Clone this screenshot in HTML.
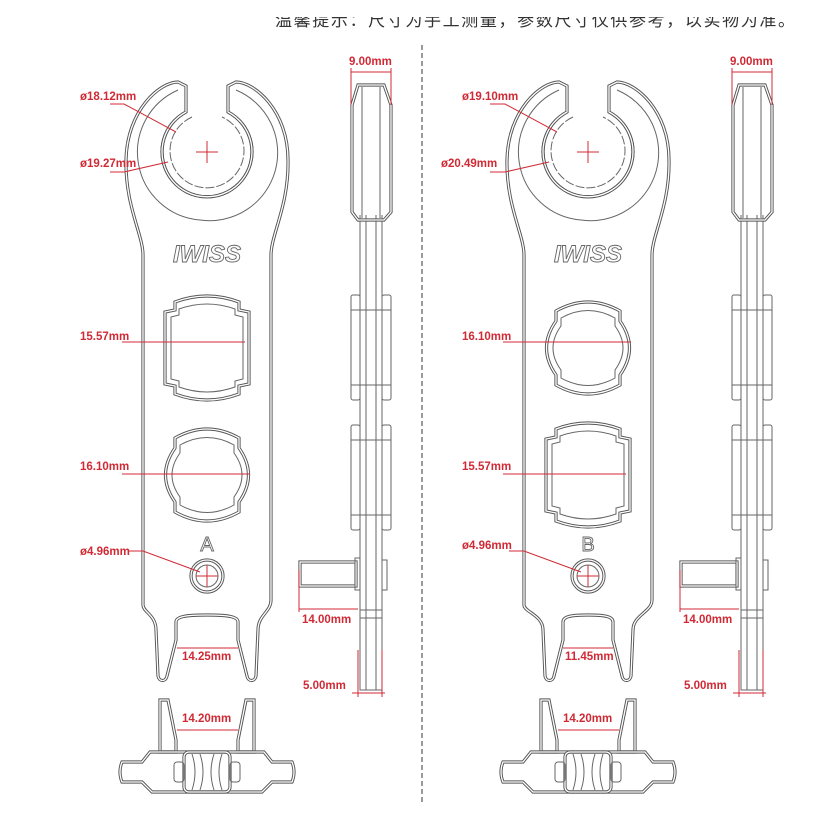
<!DOCTYPE html>
<html><head><meta charset="utf-8"><style>
html,body{margin:0;padding:0;background:#fff;}
svg{display:block;}
.t{font-family:"Liberation Sans Narrow","Liberation Sans",sans-serif;font-weight:bold;font-size:11.5px;fill:#d02a35;}
.r{stroke:#d02a35;stroke-width:1;fill:none;}
.o{fill:none;stroke:#555;stroke-width:3.2;}
.w{fill:none;stroke:#fff;stroke-width:1.3;}
.l{fill:none;stroke:#666;stroke-width:1;}
</style></head><body>
<svg width="824" height="824" viewBox="0 0 824 824" xmlns="http://www.w3.org/2000/svg">
<rect width="824" height="824" fill="#fff"/>
<text x="275" y="26" font-family="'Liberation Sans','Noto Sans CJK SC',sans-serif" font-size="17" fill="#333" textLength="520">温馨提示：尺寸为手工测量，参数尺寸仅供参考，以实物为准。</text>
<rect x="0" y="0" width="824" height="17" fill="#fff"/>
<line x1="422" y1="45" x2="422" y2="805" stroke="#555" stroke-width="1.2" stroke-dasharray="5,3"/>

<defs>
<g id="head">
  <path d="M186,112 A45,45 0 1 0 228,112" class="o"/><path d="M186,112 A45,45 0 1 0 228,112" class="w"/>
  <path d="M192,117 A37,37 0 1 0 222,117" class="l" stroke-dasharray="9,2"/>
  <path d="M178,90 A68,68 0 0 0 200,220 A68,68 0 0 0 236,90" class="l"/>
  <line x1="196" y1="152" x2="218" y2="152" class="r"/><line x1="207" y1="141" x2="207" y2="163" class="r"/>
  <text x="207" y="262" text-anchor="middle" font-family="'Liberation Sans',sans-serif" font-style="italic" font-weight="bold" font-size="24" fill="#fff" stroke="#666" stroke-width="0.9">IWISS</text>
  <circle cx="207" cy="576" r="16" class="o"/><circle cx="207" cy="576" r="16" class="w"/>
  <circle cx="207" cy="576" r="11" class="l"/>
  <line x1="196" y1="576" x2="218" y2="576" class="r"/><line x1="207" y1="565" x2="207" y2="587" class="r"/>
</g>
<g id="sq">
  <path d="M175,302 Q207,290 239,302 L239,310 L249,312 L249,384 L239,386 L239,394 Q207,406 175,394 L175,386 L165,384 L165,312 L175,310 Z" class="o"/>
  <path d="M175,302 Q207,290 239,302 L239,310 L249,312 L249,384 L239,386 L239,394 Q207,406 175,394 L175,386 L165,384 L165,312 L175,310 Z" class="w"/>
  <path d="M179,309 Q207,299 235,309 L235,315 L243,317 L243,379 L235,381 L235,387 Q207,397 179,387 L179,381 L171,379 L171,317 L179,315 Z" class="l"/>
</g>
<g id="rd">
  <path d="M175,438 Q207,420 239,438 L239,448 Q258,475 239,502 L239,512 Q207,530 175,512 L175,502 Q156,475 175,448 Z" class="o"/>
  <path d="M175,438 Q207,420 239,438 L239,448 Q258,475 239,502 L239,512 Q207,530 175,512 L175,502 Q156,475 175,448 Z" class="w"/>
  <path d="M180,445 Q207,430 234,445 L234,453 Q250,475 234,497 L234,505 Q207,520 180,505 L180,497 Q164,475 180,453 Z" class="l"/>
</g>
<g id="side">
  <path d="M360,215 L360,690 L382,690 L382,215" class="l"/>
  <line x1="366" y1="215" x2="366" y2="690" class="l"/><line x1="376" y1="215" x2="376" y2="690" class="l"/>
  <path d="M358,85 L384,85 L391,105 L391,212 L384,220 L358,220 L352,212 L352,105 Z" class="o"/>
  <path d="M358,85 L384,85 L391,105 L391,212 L384,220 L358,220 L352,212 L352,105 Z" class="w"/>
  <line x1="362" y1="87" x2="362" y2="218" class="l"/><line x1="380" y1="87" x2="380" y2="218" class="l"/>
  <rect x="351" y="295" width="9" height="105" rx="2" class="l"/><rect x="382" y="295" width="9" height="105" rx="2" class="l"/>
  <rect x="351" y="425" width="9" height="105" rx="2" class="l"/><rect x="382" y="425" width="9" height="105" rx="2" class="l"/>
  <line x1="351" y1="310" x2="391" y2="310" class="l"/><line x1="351" y1="385" x2="391" y2="385" class="l"/>
  <line x1="351" y1="440" x2="391" y2="440" class="l"/><line x1="351" y1="515" x2="391" y2="515" class="l"/>
  <rect x="300" y="562" width="56" height="24" class="o"/><rect x="300" y="562" width="56" height="24" class="w"/>
  <rect x="355" y="558" width="5" height="32" class="l"/>
  <rect x="382" y="560" width="5" height="30" class="l"/>
  <line x1="360" y1="610" x2="382" y2="610" class="l"/><line x1="360" y1="618" x2="382" y2="618" class="l"/>
</g>
<g id="conn">
  <path d="M160,700 L168,700 L176,740 L176,752 L160,752 Z" class="o"/><path d="M160,700 L168,700 L176,740 L176,752 L160,752 Z" class="w"/>
  <path d="M254,700 L246,700 L238,740 L238,752 L254,752 Z" class="o"/><path d="M254,700 L246,700 L238,740 L238,752 L254,752 Z" class="w"/>
  <path d="M150,752 L264,752 L272,762 L292,762 Q296,772 292,782 L272,782 L262,792 L152,792 L142,782 L122,782 Q118,772 122,762 L142,762 Z" class="o"/>
  <path d="M150,752 L264,752 L272,762 L292,762 Q296,772 292,782 L272,782 L262,792 L152,792 L142,782 L122,782 Q118,772 122,762 L142,762 Z" class="w"/>
  <rect x="184" y="752" width="46" height="40" rx="5" class="o"/><rect x="184" y="752" width="46" height="40" rx="5" class="w"/>
  <path d="M192,754 Q198,772 192,790 M200,754 Q206,772 200,790 M214,754 Q208,772 214,790 M222,754 Q216,772 222,790" class="l"/>
  <rect x="174" y="762" width="10" height="20" rx="3" class="l"/><rect x="230" y="762" width="10" height="20" rx="3" class="l"/>
</g>
</defs>

<!-- LEFT -->
<path d="M143,600 L143,255 C143,235 125,205 126,160 C127,110 160,82 178,82 L186,86 L186,112 A45,45 0 1 0 228,112 L228,86 L236,82 C254,82 288,110 288,160 C289,205 271,235 271,255 L271,600 C271,612 258,615 258,630 L256,676 C255,682 248,682 247,676 L238,640 L238,622 C238,617 230,615 207,615 C184,615 176,617 176,622 L176,640 L167,676 C166,682 159,682 158,676 L156,630 C156,615 143,612 143,605 Z" class="o"/>
<path d="M143,600 L143,255 C143,235 125,205 126,160 C127,110 160,82 178,82 L186,86 L186,112 A45,45 0 1 0 228,112 L228,86 L236,82 C254,82 288,110 288,160 C289,205 271,235 271,255 L271,600 C271,612 258,615 258,630 L256,676 C255,682 248,682 247,676 L238,640 L238,622 C238,617 230,615 207,615 C184,615 176,617 176,622 L176,640 L167,676 C166,682 159,682 158,676 L156,630 C156,615 143,612 143,605 Z" class="w"/>
<use href="#head"/><use href="#sq"/><use href="#rd"/><use href="#side"/><use href="#conn"/>
<text x="207" y="551" text-anchor="middle" font-family="'Liberation Sans',sans-serif" font-size="20" fill="#fff" stroke="#666" stroke-width="0.9">A</text>

<!-- RIGHT -->
<g transform="translate(381,0)">
<path d="M143,600 L143,255 C143,235 125,205 126,160 C127,110 160,82 178,82 L186,86 L186,112 A45,45 0 1 0 228,112 L228,86 L236,82 C254,82 288,110 288,160 C289,205 271,235 271,255 L271,600 C271,612 252,615 252,630 L250,676 C249,682 242,682 241,676 L232,640 L232,622 C232,617 226,615 207,615 C188,615 182,617 182,622 L182,640 L173,676 C172,682 165,682 164,676 L162,630 C162,615 143,612 143,605 Z" class="o"/>
<path d="M143,600 L143,255 C143,235 125,205 126,160 C127,110 160,82 178,82 L186,86 L186,112 A45,45 0 1 0 228,112 L228,86 L236,82 C254,82 288,110 288,160 C289,205 271,235 271,255 L271,600 C271,612 252,615 252,630 L250,676 C249,682 242,682 241,676 L232,640 L232,622 C232,617 226,615 207,615 C188,615 182,617 182,622 L182,640 L173,676 C172,682 165,682 164,676 L162,630 C162,615 143,612 143,605 Z" class="w"/>
<use href="#head"/>
<use href="#rd" transform="translate(0,-127)"/>
<use href="#sq" transform="translate(0,127)"/>
<use href="#side"/><use href="#conn"/>
<text x="207" y="551" text-anchor="middle" font-family="'Liberation Sans',sans-serif" font-size="20" fill="#fff" stroke="#666" stroke-width="0.9">B</text>
</g>

<!-- LEFT dims -->
<text class="t" x="80" y="100">ø18.12mm</text><path class="r" d="M110,104 L124,104 L176,132"/>
<text class="t" x="80" y="167">ø19.27mm</text><path class="r" d="M110,172 L124,172 L168,162"/>
<text class="t" x="80" y="340">15.57mm</text><path class="r" d="M122,342 L245,342"/>
<text class="t" x="80" y="470">16.10mm</text><path class="r" d="M122,474 L250,474"/>
<text class="t" x="80" y="555">ø4.96mm</text><path class="r" d="M128,551 L143,551 L200,572"/>
<text class="t" x="182" y="660">14.25mm</text><path class="r" d="M177,648 L238,648"/>
<text class="t" x="182" y="722">14.20mm</text><path class="r" d="M177,730 L238,730"/>
<text class="t" x="349" y="65">9.00mm</text><path class="r" d="M351,72 L391,72 M351,68 L351,105 M391,68 L391,105"/>
<text class="t" x="302" y="623">14.00mm</text><path class="r" d="M299,609 L358,609 M299,570 L299,612"/>
<text class="t" x="303" y="689">5.00mm</text><path class="r" d="M352,693 L385,693 M358,650 L358,697 M382,650 L382,697"/>
<!-- RIGHT dims -->
<text class="t" x="462" y="100">ø19.10mm</text><path class="r" d="M490,104 L505,104 L557,132"/>
<text class="t" x="441" y="167">ø20.49mm</text><path class="r" d="M490,172 L505,172 L549,162"/>
<text class="t" x="462" y="340">16.10mm</text><path class="r" d="M503,342 L631,342"/>
<text class="t" x="462" y="470">15.57mm</text><path class="r" d="M503,474 L626,474"/>
<text class="t" x="462" y="549">ø4.96mm</text><path class="r" d="M509,551 L524,551 L581,572"/>
<text class="t" x="565" y="660">11.45mm</text><path class="r" d="M563,648 L613,648"/>
<text class="t" x="563" y="722">14.20mm</text><path class="r" d="M558,730 L619,730"/>
<text class="t" x="730" y="65">9.00mm</text><path class="r" d="M732,72 L772,72 M732,68 L732,105 M772,68 L772,105"/>
<text class="t" x="683" y="623">14.00mm</text><path class="r" d="M680,609 L739,609 M680,570 L680,612"/>
<text class="t" x="684" y="689">5.00mm</text><path class="r" d="M733,693 L766,693 M739,650 L739,697 M763,650 L763,697"/>
</svg>
</body></html>
